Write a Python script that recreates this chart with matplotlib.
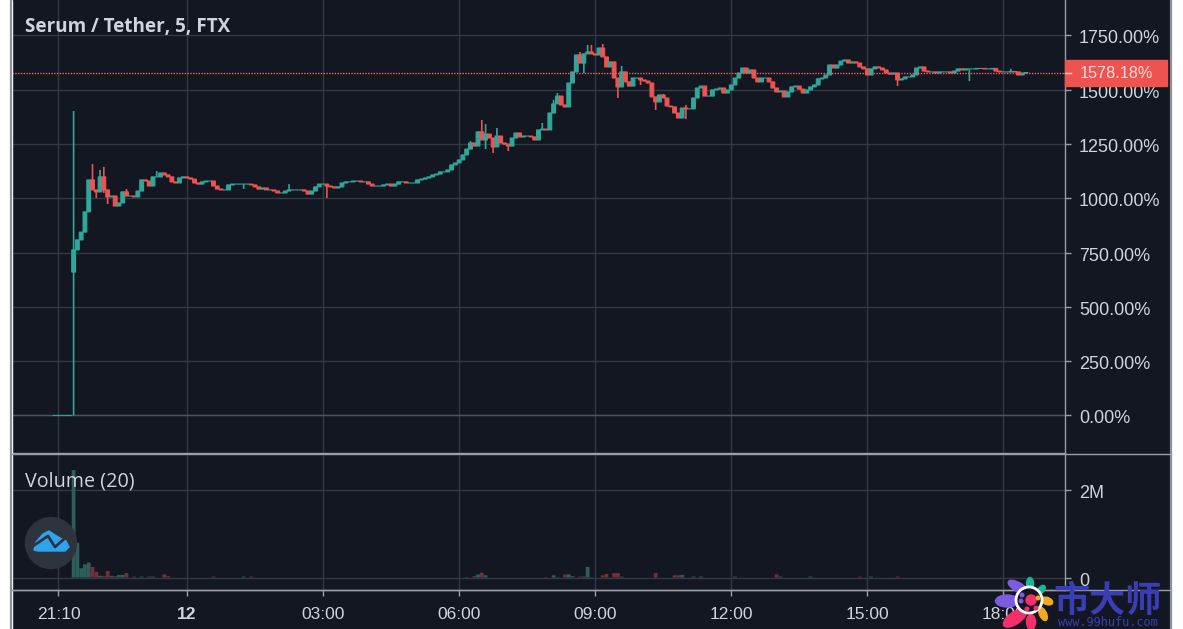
import numpy as np
import matplotlib
matplotlib.use('Agg')
import matplotlib.pyplot as plt
from matplotlib.patches import Circle, Ellipse, Rectangle, Polygon
from matplotlib.transforms import ScaledTranslation

# 5 minute closes in percent, first bar at 21:05
closes = [
    0, 0, 0, 0, 0, 762, 808, 844, 937, 1084,
    1038, 1029, 1098, 1038, 1006, 1010, 964, 978, 1029, 1010,
    1010, 1006, 1033, 1084, 1079, 1056, 1098, 1098, 1116, 1107,
    1098, 1075, 1070, 1093, 1098, 1093, 1088, 1070, 1065, 1075,
    1079, 1079, 1056, 1042, 1038, 1038, 1061, 1065, 1065, 1065,
    1065, 1065, 1061, 1052, 1042, 1047, 1038, 1038, 1033, 1024,
    1024, 1033, 1038, 1038, 1038, 1038, 1033, 1019, 1033, 1052,
    1065, 1065, 1056, 1052, 1047, 1052, 1070, 1075, 1075, 1079,
    1079, 1075, 1075, 1065, 1056, 1056, 1056, 1061, 1065, 1056,
    1065, 1075, 1075, 1070, 1070, 1070, 1084, 1088, 1093, 1098,
    1107, 1111, 1121, 1121, 1130, 1153, 1162, 1176, 1199, 1226,
    1254, 1240, 1305, 1268, 1295, 1277, 1236, 1286, 1254, 1249,
    1240, 1277, 1300, 1282, 1286, 1286, 1282, 1268, 1314, 1318,
    1314, 1392, 1434, 1470, 1429, 1420, 1530, 1581, 1659, 1622,
    1664, 1673, 1664, 1659, 1691, 1650, 1604, 1627, 1553, 1512,
    1581, 1535, 1516, 1553, 1553, 1544, 1539, 1530, 1466, 1443,
    1475, 1461, 1424, 1420, 1392, 1369, 1415, 1411, 1411, 1461,
    1507, 1516, 1470, 1470, 1498, 1502, 1507, 1484, 1498, 1521,
    1553, 1576, 1599, 1576, 1590, 1553, 1535, 1553, 1553, 1535,
    1507, 1489, 1493, 1466, 1489, 1512, 1516, 1502, 1484, 1498,
    1512, 1521, 1549, 1553, 1567, 1613, 1599, 1613, 1631, 1636,
    1622, 1627, 1622, 1604, 1595, 1567, 1595, 1604, 1599, 1590,
    1576, 1571, 1576, 1544, 1549, 1558, 1558, 1567, 1599, 1604,
    1585, 1581, 1581, 1576, 1581, 1581, 1581, 1576, 1585, 1595,
    1590, 1595, 1595, 1595, 1597, 1597, 1595, 1595, 1597, 1585,
    1581, 1581, 1581, 1583, 1581, 1567, 1576, 1578,
]
last_price = 1578.18
first_jump_bar = 5
first_jump_open = 660

# wicks that stick out of the bodies
high_bars = [5, 10, 12, 13, 19, 27, 62, 110, 113, 114, 117, 129, 132, 133,
             139, 141, 142, 145, 150, 161, 167, 253]
high_vals = [1401, 1157, 1130, 1144, 1042, 1125, 1065, 1263, 1360, 1341, 1323, 1346, 1452, 1484,
             1673, 1705, 1705, 1710, 1608, 1479, 1429, 1595]
low_bars = [5, 11, 13, 14, 50, 72, 114, 116, 120, 140, 149, 155, 159, 167, 223, 242]
low_vals = [0, 1001, 1024, 973, 1042, 1001, 1226, 1208, 1217, 1576, 1461, 1521, 1406, 1364, 1516, 1539]

# volume, only the bars that can be seen
vol_bars = [5, 6, 7, 8, 9, 10, 11, 12, 13, 14, 15, 16, 17, 18, 19, 21, 23, 25, 26, 29, 30,
            42, 50, 52, 109, 111, 112, 113, 114, 130, 132, 133, 135, 136, 137, 139, 140, 141, 142,
            145, 146, 148, 149, 150, 159, 164, 165, 166, 169, 171, 180, 191, 192, 200, 213, 216, 223]
vol_vals = [2440000, 790000, 210000, 300000, 340000, 240000, 130000, 40000, 30000, 150000, 40000,
            30000, 60000, 60000, 100000, 20000, 20000, 20000, 20000, 70000, 30000,
            20000, 20000, 20000, 10000, 30000, 70000, 110000, 50000, 10000, 50000, 10000, 70000, 70000,
            30000, 20000, 20000, 240000, 10000,
            50000, 80000, 100000, 100000, 20000, 100000, 50000, 50000, 60000, 20000, 20000, 20000,
            70000, 20000, 20000, 20000, 20000, 20000]

price_ticks = [0, 250, 500, 750, 1000, 1250, 1500, 1750]
vol_ticks = [0, 2000000]
vol_tick_labels = ['0', '2M']
time_bars = [1, 35, 71, 107, 143, 179, 215, 251]
time_labels = ['21:10', '12', '03:00', '06:00', '09:00', '12:00', '15:00', '18:00']

BG = '#131722'
GRID = '#343843'
EDGE = '#9a9da5'
TXT = '#d1d4dc'
UP = '#2fa79b'
DOWN = '#ef5350'
W, H = 1183, 629

closes = np.array(closes, dtype=float)
opens = np.r_[closes[0], closes[:-1]]
opens[first_jump_bar] = first_jump_open
bars = np.arange(len(closes))
highs = np.maximum(opens, closes)
lows = np.minimum(opens, closes)
highs[high_bars] = high_vals
lows[low_bars] = low_vals
colors = np.where(closes >= opens, UP, DOWN)

plt.rcParams['font.family'] = ['Liberation Sans', 'DejaVu Sans']
fig = plt.figure(figsize=(W / 100, H / 100), dpi=100, facecolor='white')
fig.add_artist(Rectangle((12 / W, 0), (1171 - 12) / W, 1, transform=fig.transFigure,
                         facecolor=BG, edgecolor='none', zorder=-5))


def px_axes(x0, y0, x1, y1):
    return fig.add_axes([x0 / W, 1 - y1 / H, (x1 - x0) / W, (y1 - y0) / H])


ax1 = px_axes(12, 0, 1065, 453)
ax2 = px_axes(12, 454, 1065, 590)
for ax in (ax1, ax2):
    ax.set_facecolor('none')
    ax.set_xlim(-11.3, 267.3)
    ax.set_xticks(time_bars)
    ax.yaxis.tick_right()
    ax.grid(True, color=GRID, lw=1)
    ax.set_axisbelow(True)
    for s in ('left', 'top'):
        ax.spines[s].set_visible(False)
    ax.spines['right'].set_color(EDGE)
    ax.spines['bottom'].set_color(EDGE)
    ax.spines['right'].set_linewidth(1)
    ax.spines['bottom'].set_linewidth(1)
    ax.tick_params(axis='y', colors=EDGE, labelcolor=TXT, length=4.5, width=1, pad=5.5, labelsize=13)

# candles
ax1.set_ylim(-172.6, 1912)
ax1.set_yticks(price_ticks)
ax1.set_yticklabels(['%.2f%%' % p for p in price_ticks])
ax1.tick_params(axis='x', length=0, labelbottom=False)
ax1.axhline(0, color='#4d515c', lw=1, zorder=1)
wicks = ax1.vlines(bars, lows, highs, colors=colors, lw=1.2, zorder=3)
wicks.set_snap(False)
bodies = ax1.bar(bars, np.abs(closes - opens), bottom=np.minimum(opens, closes), width=1.0,
                 color=colors, edgecolor=colors, lw=0.8, zorder=4)
for b in bodies:
    b.set_snap(False)
ax1.axhline(last_price, color='#f0605e', ls=(0, (1, 1)), lw=1, zorder=5)

# volume
vol = np.zeros(len(closes))
vol[vol_bars] = vol_vals
vol_colors = np.where(closes >= opens, '#2b5f58', '#74303a')
ax2.set_ylim(-284000, 2807000)
ax2.set_yticks(vol_ticks)
ax2.set_yticklabels(vol_tick_labels)
ax2.set_xticklabels(time_labels, color=TXT, fontsize=12.5)
ax2.get_xticklabels()[1].set_fontweight('bold')
ax2.tick_params(axis='x', colors=EDGE, labelcolor=TXT, length=4.5, width=1, pad=7.5)
vol_rects = ax2.bar(bars[vol > 0], vol[vol > 0], width=1.0, color=vol_colors[vol > 0], zorder=3)
for b in vol_rects:
    b.set_snap(False)

# tick labels sit a little below their lines
for ax in (ax1, ax2):
    for lab in ax.get_yticklabels():
        lab.set_transform(lab.get_transform() + ScaledTranslation(0, -1.5 / 100, fig.dpi_scale_trans))

# everything on top is placed in pixels
top = fig.add_axes([0, 0, 1, 1], facecolor='none', zorder=10)
top.set_xlim(0, W)
top.set_ylim(H, 0)
top.axis('off')

top.add_patch(Rectangle((0, 0), 12, H, color='white', zorder=1))
top.plot([11.5, 11.5], [0, H], color='#8f9196', lw=1.6)
top.plot([1171.5, 1171.5], [0, H], color='#8f9196', lw=1.6)
top.plot([12, 1171], [453.5, 453.5], color=EDGE, lw=1)
top.plot([12, 1171], [590, 590], color=EDGE, lw=1)

top.text(25, 27, 'Serum / Tether, 5, FTX', family='Open Sans', fontweight='bold', fontsize=13.6,
         color=TXT, va='center')
top.text(25, 482, 'Volume (20)', family='Open Sans', fontsize=14.2, color=TXT, va='center')

# last price tag
top.add_patch(Rectangle((1065, 60), 102, 26, color=DOWN, zorder=3))
top.plot([1065, 1071], [73, 73], color='#f5d5d5', lw=1, zorder=4)
top.text(1116, 73, '%.2f%%' % last_price, color='#f7dede', fontsize=11.7, ha='center', va='center', zorder=4)

# cloud badge
top.add_patch(Circle((51, 543), 25.5, color='#2e3340', zorder=3))
cloud = Polygon([(34, 550), (36, 542), (43, 534), (49, 531), (55, 535), (60, 538), (66, 541), (69, 547),
                 (65, 551), (38, 551)], closed=True, color='#2ea3ee', zorder=4)
top.add_patch(cloud)
top.plot([33, 48, 55, 64], [546, 536, 547, 539], color='#2e3340', lw=2, zorder=5)

# watermark
petals = [
    (1007, 601, 23, 12, 0, '#7c5be0'),
    (1018, 587, 22, 9, 30, '#7c5be0'),
    (1030, 584, 7, 13, 0, '#18b894'),
    (1041, 590, 6, 11, 40, '#18b894'),
    (1047, 601, 12, 7, 20, '#f4a91f'),
    (1043, 614, 7, 14, -25, '#f4a91f'),
    (1031, 622, 9, 15, 0, '#f42f6c'),
    (1015, 618, 27, 12, -35, '#f42f6c'),
]
for cx, cy, ew, eh, ang, col in petals:
    top.add_patch(Ellipse((cx, cy), ew, eh, angle=ang, color=col, zorder=6))
top.add_patch(Circle((1029, 600), 13, facecolor=BG, edgecolor='white', lw=2, zorder=7))
top.add_patch(Circle((1031, 600), 5, color='#f42f6c', zorder=8))
for dx, dy, col in [(-7, -5, '#7c5be0'), (-8, 1, '#7c5be0'), (-2, 9, '#f42f6c'), (7, 8, '#f42f6c'),
                    (9, -2, '#f4a91f')]:
    top.add_patch(Circle((1029 + dx, 600 + dy), 1.8, color=col, zorder=8))
top.text(1108, 601, '市大师', family='Noto Sans CJK SC', fontweight='bold', fontsize=26, color='#3a3db5',
         ha='center', va='center', zorder=6)
top.text(1108, 622, 'www.99hufu.com', family='DejaVu Sans Mono', fontsize=8.6, color='#3a3db5',
         ha='center', va='center', zorder=6)

fig.savefig('out.png', dpi=100, facecolor='white')
